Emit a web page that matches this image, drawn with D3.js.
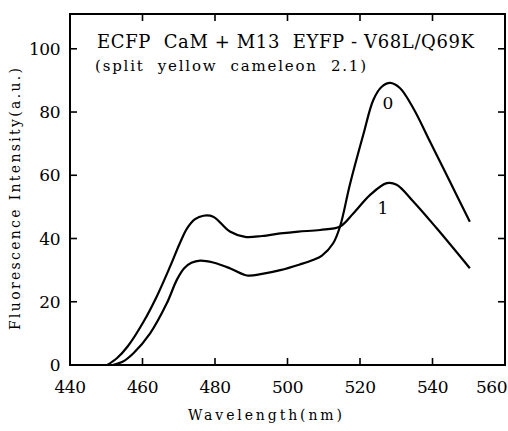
<!DOCTYPE html>
<html>
<head>
<meta charset="utf-8">
<script src="https://cdn.jsdelivr.net/npm/d3@7"></script>
<style>
  body { margin: 0; background: #fff; }
</style>
</head>
<body>
<div id="chart"></div>
<script>
// spectra (nm, a.u.)
const wave0 = [451.8, 454.5, 457.5, 462.1, 466.7, 469.5, 471.5, 473.5, 475.9, 479.5, 484.1, 488.8, 493, 498, 503.4, 507, 509.5, 512.6, 514.5, 517.2, 520.9, 523.7, 526, 528.3, 531, 534.7, 539.3, 544.8, 550.3];
const value0 = [0, 1, 3.7, 10, 19.5, 27, 30.6, 32.3, 33, 32.4, 30.6, 28.3, 28.8, 30, 31.8, 33.2, 34.6, 38.5, 43.8, 57, 72.8, 83.9, 88, 89.2, 87.6, 81.2, 70.7, 58, 45.3];
const wave1 = [450.3, 453, 456, 460.2, 463.9, 467.6, 470.3, 472.3, 474.5, 476.8, 479.5, 484.1, 488.3, 493, 498, 503, 509, 514.5, 518.2, 522.8, 527.4, 530.1, 534.7, 541.1, 550.3];
const value1 = [0, 2.2, 6, 13.5, 21.6, 31.1, 38.5, 43.2, 46.1, 47.2, 46.9, 42.2, 40.5, 40.8, 41.6, 42.2, 42.7, 43.8, 48, 53.8, 57.5, 57, 51.7, 43.3, 30.6];
const xTicks = [440, 460, 480, 500, 520, 540, 560];
const yTicks = [0, 20, 40, 60, 80, 100];

const W = 508, H = 431;
const margin = { top: 14, right: 3, bottom: 66, left: 70 };
const serif = "'DejaVu Serif', serif";

const svg = d3.select("#chart").append("svg")
  .attr("width", W).attr("height", H)
  .attr("font-family", serif);

const x = d3.scaleLinear().domain([440, 560]).range([margin.left, W - margin.right]);
const y = d3.scaleLinear().domain([0, 111]).range([H - margin.bottom, margin.top]);

const x0 = x(440), x1 = x(560), y0 = y(0), y1 = y(111);

// frame
svg.append("rect")
  .attr("x", x0).attr("y", y1)
  .attr("width", x1 - x0).attr("height", y0 - y1)
  .attr("fill", "none").attr("stroke", "#000").attr("stroke-width", 2);

// inward ticks on all four sides
const tl = 7;
const tickG = svg.append("g").attr("stroke", "#000").attr("stroke-width", 1.6);
xTicks.slice(1, -1).forEach(t => {
  tickG.append("line").attr("x1", x(t)).attr("x2", x(t)).attr("y1", y0).attr("y2", y0 - tl);
  tickG.append("line").attr("x1", x(t)).attr("x2", x(t)).attr("y1", y1).attr("y2", y1 + tl);
});
yTicks.slice(1).forEach(t => {
  tickG.append("line").attr("x1", x0).attr("x2", x0 + tl).attr("y1", y(t)).attr("y2", y(t));
  tickG.append("line").attr("x1", x1).attr("x2", x1 - tl).attr("y1", y(t)).attr("y2", y(t));
});

// tick labels
svg.append("g").selectAll("text").data(xTicks).join("text")
  .attr("x", d => d === 560 ? W - 1 : x(d)).attr("y", y0 + 28)
  .attr("text-anchor", d => d === 560 ? "end" : "middle")
  .attr("font-size", 17).attr("letter-spacing", -0.5)
  .text(d => d);

svg.append("g").selectAll("text").data(yTicks).join("text")
  .attr("x", x0 - 10).attr("y", d => y(d) + 6)
  .attr("text-anchor", "end")
  .attr("font-size", 17).attr("letter-spacing", -0.5)
  .text(d => d);

// axis titles
svg.append("text")
  .attr("x", 188).attr("y", 420)
  .attr("font-size", 14)
  .attr("textLength", 154).attr("lengthAdjust", "spacing")
  .text("Wavelength(nm)");

svg.append("text")
  .attr("transform", "translate(20,330) rotate(-90)")
  .attr("font-size", 14)
  .attr("textLength", 262).attr("lengthAdjust", "spacing")
  .text("Fluorescence Intensity(a.u.)");

// curves
const line = d3.line()
  .x(d => x(d[0])).y(d => y(d[1]))
  .curve(d3.curveCatmullRom.alpha(0.5));

[[wave0, value0], [wave1, value1]].forEach(([w, v]) => {
  svg.append("path")
    .datum(w.map((d, i) => [d, v[i]]))
    .attr("d", line)
    .attr("fill", "none").attr("stroke", "#000").attr("stroke-width", 2.2);
});

// curve labels
svg.append("text").attr("x", x(527.7)).attr("y", y(81))
  .attr("text-anchor", "middle").attr("font-size", 17).text("0");
svg.append("text").attr("x", x(526.3)).attr("y", y(47.8))
  .attr("text-anchor", "middle").attr("font-size", 17).text("1");

// title inside plot
svg.append("text").attr("x", 97).attr("y", 48)
  .attr("font-size", 18).attr("xml:space", "preserve")
  .attr("textLength", 377).attr("lengthAdjust", "spacing")
  .text("ECFP  CaM + M13  EYFP - V68L/Q69K");
svg.append("text").attr("x", 95).attr("y", 71)
  .attr("font-size", 15).attr("xml:space", "preserve")
  .attr("textLength", 271).attr("lengthAdjust", "spacing")
  .text("(split  yellow  cameleon  2.1)");
</script>
</body>
</html>
